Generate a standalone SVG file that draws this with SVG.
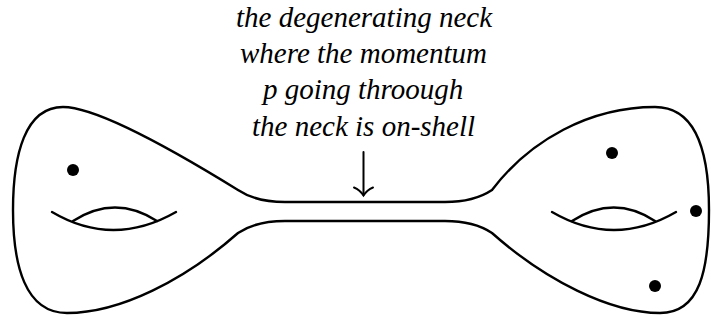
<svg xmlns="http://www.w3.org/2000/svg" width="711" height="320" viewBox="0 0 711 320">
<style>
.ol{fill:none;stroke:#000;stroke-width:2.4;stroke-linejoin:round;stroke-linecap:round}
.hole{fill:none;stroke:#000;stroke-width:2.4;stroke-linecap:round}
.dot{fill:#000}
.arr{fill:none;stroke:#000;stroke-width:2;stroke-linecap:round}
</style>
<rect width="711" height="320" fill="#fff"/>
<g id="surface">
<path class="ol" d="M 238,190 Q 256,202 285,202 L 445,202 Q 474,202 492,190 C 530,140 590,107 655,107 C 700,107 709,160 709,210 C 709,270 700,313 660,313 C 610,313 545,280 492,233 Q 474,221 445,221 L 285,221 Q 256,221 238,233 C 185,280 120,313 67,313 C 25,313 13,265 13,210 C 13,155 25,107 63,107 C 95,107 170,148 238,190 Z"/>
</g>
<g id="left-handle">
<path class="hole" d="M 52,212 Q 113,248 176,212"/>
<path class="hole" d="M 73,221 Q 115,194 157,221"/>
</g>
<g id="right-handle">
<path class="hole" d="M 552,212 Q 614,248 676,212"/>
<path class="hole" d="M 572,221 Q 614,194 655,221"/>
</g>
<g id="punctures">
<circle class="dot" cx="73" cy="170" r="6"/>
<circle class="dot" cx="612" cy="153" r="6"/>
<circle class="dot" cx="696" cy="211" r="6"/>
<circle class="dot" cx="655" cy="286" r="6"/>
</g>
<g id="label" font-size="29" fill="#000">
<text x="236" y="27" font-family="Liberation Serif" font-style="italic">the degenerating neck</text>
<text x="240" y="63" font-family="Liberation Serif" font-style="italic">where the momentum</text>
<text x="263" y="99" font-family="Liberation Serif" font-style="italic">p going throough</text>
<text x="252" y="136" font-family="Liberation Serif" font-style="italic">the neck is on-shell</text>
</g>
<g id="connectors">
<line class="arr" x1="363.5" y1="152" x2="363.5" y2="195"/>
<path class="arr" d="M 354,187.5 Q 360,190 363.5,195.5 Q 367,190 373,187.5"/>
</g>
</svg>
